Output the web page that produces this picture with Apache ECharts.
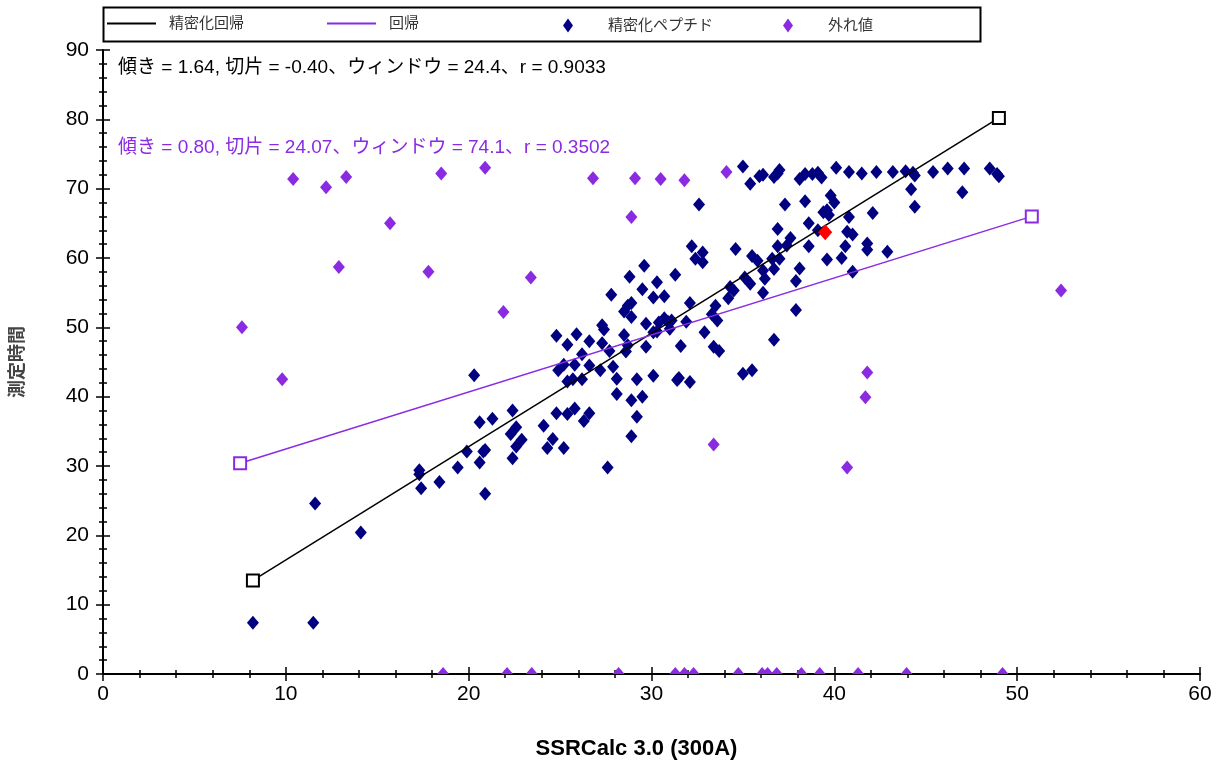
<!DOCTYPE html>
<html>
<head>
<meta charset="utf-8">
<script src="https://cdn.jsdelivr.net/npm/echarts@6/dist/echarts.min.js"></script>
<style>
html,body{margin:0;padding:0;background:#fff;}
#chart{width:1224px;height:765px;}
</style>
</head>
<body>
<div id="chart"></div>
<script>
// ---- data ----
const legendNames = ['精密化回帰', '回帰', '精密化ペプチド', '外れ値'];
const xAxisTitle = 'SSRCalc 3.0 (300A)';
const yAxisTitle = '測定時間';

// regression line end points [x, y]
const regressionRefined = [[8.2, 13.5], [49.0, 80.2]];
const regressionAll = [[7.5, 30.4], [50.8, 66.0]];

// statistics shown as text
const statsRefined = { slope: '1.64', intercept: '-0.40', window: '24.4', r: '0.9033' };
const statsAll = { slope: '0.80', intercept: '24.07', window: '74.1', r: '0.3502' };

// refined peptides (navy diamonds)
const refinedPoints = [
  [17.3,29.4],[17.3,28.8],[17.4,26.8],[18.4,27.7],[11.6,24.6],[14.1,20.4],[8.2,7.4],[11.5,7.4],
  [27.8,54.7],[24.8,48.8],[25.9,49.0],[25.4,47.5],[26.6,48.0],[27.3,50.3],[27.4,49.7],[27.3,47.7],
  [26.2,46.1],[27.7,46.6],[25.2,44.6],[24.9,43.8],[25.8,44.6],[26.6,44.5],[27.2,43.8],[27.9,44.3],
  [25.4,42.2],[25.7,42.5],[26.2,42.5],[28.1,42.6],[28.1,40.4],[20.3,43.1],[24.8,37.6],[25.4,37.5],
  [25.8,38.3],[26.6,37.6],[26.3,36.5],[24.1,35.8],[24.6,33.9],[24.3,32.6],[25.2,32.6],[22.4,38.0],
  [22.6,35.6],[22.3,34.6],[22.9,33.8],[22.6,32.8],[22.4,31.1],[21.3,36.8],[20.6,36.3],[19.9,32.1],
  [20.9,32.3],[20.8,32.1],[20.6,30.5],[19.4,29.8],[20.9,26.0],[27.6,29.8],
  [35.0,73.2],[35.4,70.7],[35.9,71.8],[36.1,72.0],[36.7,71.7],[36.9,72.2],[32.6,67.7],[36.9,64.2],
  [36.9,61.7],[32.2,61.7],[32.8,60.8],[32.4,59.9],[32.8,59.4],[34.6,61.3],[35.5,60.3],[35.8,59.6],
  [36.6,59.9],[36.1,58.2],[36.7,58.4],[35.1,57.2],[35.4,56.3],[36.2,57.0],[36.1,55.0],[34.3,55.8],
  [34.5,55.3],[34.2,54.2],[29.6,58.9],[28.8,57.3],[31.3,57.6],[30.3,56.5],[29.5,55.5],[30.1,54.3],
  [30.7,54.5],[28.9,53.5],[28.7,53.1],[28.5,52.3],[28.9,51.5],[32.1,53.5],[33.5,53.1],[33.3,51.9],
  [33.6,51.0],[31.9,50.8],[30.7,51.3],[30.9,50.8],[31.1,51.0],[30.4,50.7],[30.3,49.4],[31.0,49.8],
  [29.7,50.5],[30.1,49.3],[28.5,48.9],[28.7,47.4],[28.6,46.5],[29.7,47.2],[31.6,47.3],[32.9,49.3],
  [33.4,47.2],[33.7,46.6],[29.2,42.5],[30.1,43.0],[31.5,42.7],[31.4,42.4],[32.1,42.1],[35.0,43.3],
  [35.5,43.8],[36.7,48.2],[28.9,39.5],[29.5,40.0],[29.2,37.1],[28.9,34.3],
  [37.0,72.7],[38.1,71.4],[38.4,72.1],[38.8,72.1],[39.1,72.3],[39.3,71.6],[40.1,73.0],[40.8,72.4],
  [41.5,72.2],[42.3,72.4],[43.2,72.4],[43.9,72.5],[44.3,72.3],[44.4,71.9],[45.4,72.4],[46.2,72.9],
  [47.1,72.9],[48.5,72.9],[48.9,72.1],[49.0,71.8],[47.0,69.5],[44.2,69.9],[44.4,67.4],[39.8,69.0],
  [40.0,68.0],[38.4,68.2],[37.3,67.7],[42.1,66.5],[39.4,66.6],[39.6,66.9],[39.7,66.2],[40.8,65.9],
  [38.6,65.0],[39.1,64.0],[37.6,62.9],[40.7,63.8],[41.0,63.4],[37.4,61.8],[38.6,61.7],[40.6,61.7],
  [41.8,62.1],[41.8,61.2],[42.9,60.9],[37.0,59.9],[39.6,59.8],[40.4,60.0],[38.1,58.5],[41.0,58.0],
  [37.9,56.7],[37.9,52.5]
];

// outliers (purple diamonds)
const outlierPoints = [
  [10.4,71.4],[12.2,70.2],[13.3,71.7],[18.5,72.2],[15.7,65.0],[12.9,58.7],[17.8,58.0],[7.6,50.0],
  [9.8,42.5],[20.9,73.0],[26.8,71.5],[23.4,57.2],[21.9,52.2],[29.1,71.5],[30.5,71.4],[31.8,71.2],
  [34.1,72.4],[28.9,65.9],[33.4,33.1],[41.8,43.5],[41.7,39.9],[40.7,29.8],[52.4,55.3]
];
// outliers sitting on the x axis (measured time = 0)
const outlierZeroX = [18.6,22.1,23.45,28.2,31.3,31.8,32.3,34.75,36.05,36.35,36.85,38.2,39.2,41.3,43.95,49.2];

// selected peptide (red)
const selectedPoint = [[39.5, 63.7]];

// ---- chart ----
const NAVY = '#000080', PURPLE = '#8A2BE2', RED = '#FF0000';
const FONT = "'Liberation Sans', Arial, 'Noto Sans CJK JP', sans-serif";

function statText(s) {
  return '傾き = ' + s.slope + ', 切片 = ' + s.intercept + '、ウィンドウ = ' + s.window + '、r = ' + s.r;
}

function axisPair(dim, max, extra) {
  const base = {
    type: 'value', min: 0, max: max, interval: 10,
    splitLine: { show: false },
    axisLine: { show: true, onZero: false, lineStyle: { color: '#000', width: 2 } },
    axisTick: { show: true, length: 7, lineStyle: { color: '#000', width: 1.5 } },
    minorTick: { show: true, splitNumber: 5, length: 4, lineStyle: { color: '#000', width: 1.5 } },
    minorSplitLine: { show: false }
  };
  const a = Object.assign({}, base, extra, {
    axisLabel: { show: true, fontSize: 21, color: '#000', fontFamily: FONT, margin: dim === 'x' ? 10 : 14 }
  });
  const b = Object.assign({}, base, {
    position: extra.position,
    axisLine: { show: false },
    axisTick: { show: true, inside: true, length: 7, lineStyle: { color: '#000', width: 1.5 } },
    minorTick: { show: true, splitNumber: 5, length: 4, lineStyle: { color: '#000', width: 1.5 } },
    axisLabel: { show: false }
  });
  return [a, b];
}

const xAxes = axisPair('x', 60, {
  position: 'bottom',
  name: xAxisTitle, nameLocation: 'middle', nameGap: 64,
  nameTextStyle: { fontWeight: 'bold', fontSize: 22, color: '#000', fontFamily: FONT, padding: [0, 30, 0, 0] }
});
const yAxes = axisPair('y', 90, {
  position: 'left',
  name: yAxisTitle, nameLocation: 'middle', nameGap: 76, nameRotate: 90,
  nameTextStyle: { fontWeight: 'bold', fontSize: 18, color: '#444', fontFamily: FONT }
});

function lineLegend(name, left) {
  return {
    data: [{ name: name, icon: 'rect' }], left: left, top: 16, orient: 'horizontal',
    itemWidth: 49, itemHeight: 2, padding: 0, selectedMode: false,
    textStyle: { fontSize: 15, color: '#333', fontFamily: FONT, padding: [0, 0, 0, 8] }
  };
}
function dotLegend(name, left) {
  return {
    data: [{ name: name, icon: 'diamond' }], left: left, top: 18, orient: 'horizontal',
    itemWidth: 10, itemHeight: 14, padding: 0, selectedMode: false,
    itemStyle: { opacity: 1 },
    textStyle: { fontSize: 15, color: '#333', fontFamily: FONT, padding: [0, 0, 0, 30] }
  };
}

const option = {
  animation: false,
  backgroundColor: '#fff',
  grid: { left: 103, right: 24, top: 50, bottom: 88, containLabel: false },
  xAxis: xAxes,
  yAxis: yAxes,
  legend: [
    lineLegend(legendNames[0], 107),
    lineLegend(legendNames[1], 327),
    dotLegend(legendNames[2], 563),
    dotLegend(legendNames[3], 783)
  ],
  graphic: [
    { type: 'rect', left: 101, top: 5, shape: { width: 877, height: 34 },
      style: { fill: 'none', stroke: '#000', lineWidth: 2 }, silent: true, z: 10 },
    { type: 'text', left: 118, top: 58,
      style: { text: statText(statsRefined), fill: '#000', font: '19px ' + FONT }, z: 10 },
    { type: 'text', left: 118, top: 138,
      style: { text: statText(statsAll), fill: PURPLE, font: '19px ' + FONT }, z: 10 }
  ],
  series: [
    {
      name: legendNames[0], type: 'line', data: regressionRefined, z: 4,
      symbol: 'emptyRect', symbolSize: 12, showAllSymbol: true,
      lineStyle: { color: '#000', width: 1.5 },
      itemStyle: { color: '#000', borderWidth: 1.5 }
    },
    {
      name: legendNames[1], type: 'line', data: regressionAll, z: 4,
      symbol: 'emptyRect', symbolSize: 12, showAllSymbol: true,
      lineStyle: { color: PURPLE, width: 1.5 },
      itemStyle: { color: PURPLE, borderWidth: 1.5 }
    },
    {
      name: legendNames[2], type: 'scatter', data: refinedPoints, z: 3,
      symbol: 'diamond', symbolSize: [12, 14],
      itemStyle: { color: NAVY, opacity: 1 }
    },
    {
      name: legendNames[3], type: 'scatter', data: outlierPoints, z: 3,
      symbol: 'diamond', symbolSize: [12, 14],
      itemStyle: { color: PURPLE, opacity: 1 }
    },
    {
      name: legendNames[3], type: 'scatter', data: outlierZeroX.map(x => [x, 0]), z: 3,
      symbol: 'triangle', symbolSize: [12, 7], symbolOffset: [0, -3.5],
      itemStyle: { color: PURPLE, opacity: 1 }
    },
    {
      name: 'selected', type: 'scatter', data: selectedPoint, z: 5,
      symbol: 'diamond', symbolSize: [14, 16],
      itemStyle: { color: RED, opacity: 1 }
    }
  ]
};

const chart = echarts.init(document.getElementById('chart'), null, { renderer: 'canvas' });
chart.setOption(option);
</script>
</body>
</html>
